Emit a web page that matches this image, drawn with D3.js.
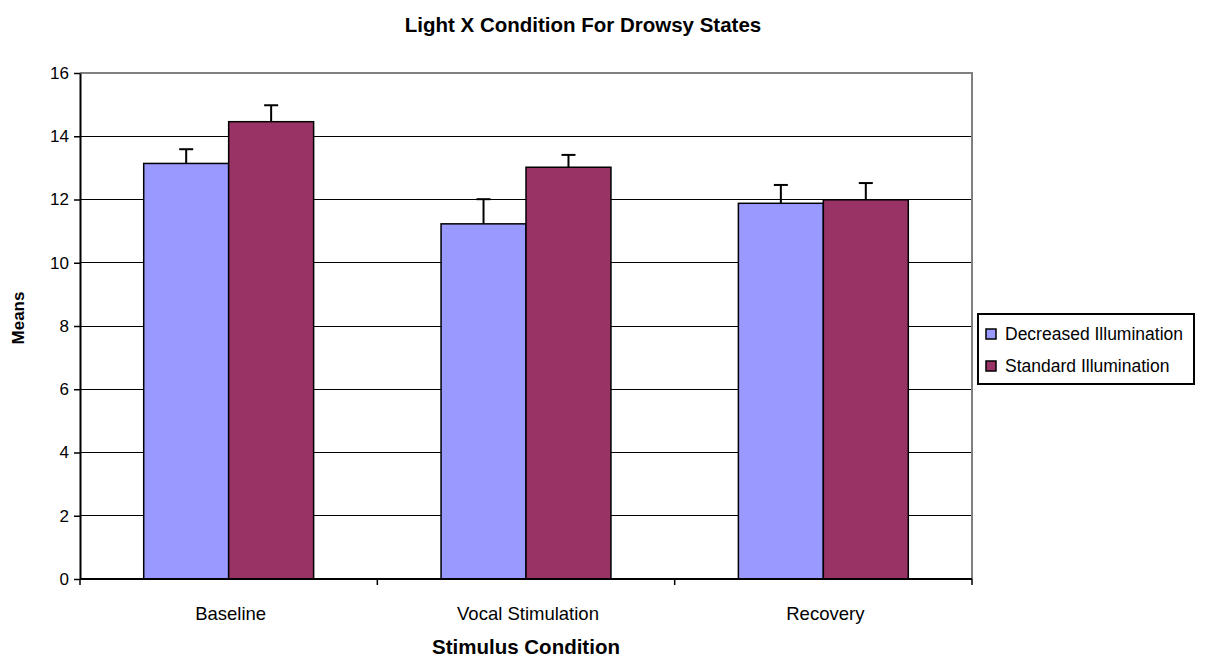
<!DOCTYPE html>
<html><head><meta charset="utf-8">
<script src="https://cdn.jsdelivr.net/npm/d3@7"></script>
<style>body{margin:0;background:#fff;} text{font-family:"Liberation Sans",Arial,sans-serif;}</style>
</head><body>
<svg id="c" width="1212" height="658"></svg>
<script>
const categories = ["Baseline", "Vocal Stimulation", "Recovery"];
const seriesNames = ["Decreased Illumination", "Standard Illumination"];
const decreased = [13.14, 11.23, 11.88];
const standard = [14.46, 13.02, 11.99];
const decreasedErr = [0.45, 0.78, 0.58];
const standardErr = [0.52, 0.39, 0.53];
const yTicks = [0, 2, 4, 6, 8, 10, 12, 14, 16];
const colors = ["#9999FF", "#993366"];

const svg = d3.select("#c");
const L = 80, R = 972, T = 73, B = 579;
const x = d3.scaleBand().domain(categories).range([L, R]).paddingInner(0).paddingOuter(0);
const x1 = d3.scaleBand().domain(seriesNames).range([0, x.bandwidth()]).paddingInner(0).paddingOuter(0.75);
const y = d3.scaleLinear().domain([0, 16]).range([B, T]);

// grid
svg.append("g").selectAll("line").data(yTicks.filter(d => d > 0 && d < 16)).join("line")
  .attr("x1", L).attr("x2", R).attr("y1", d => y(d)).attr("y2", d => y(d))
  .attr("stroke", "#000").attr("stroke-width", 1).attr("shape-rendering", "crispEdges");
// plot border top/right gray
svg.append("path").attr("d", `M${L},${T}H${R}V${B}`).attr("fill", "none")
  .attr("stroke", "#808080").attr("stroke-width", 2).attr("shape-rendering", "crispEdges");

const data = categories.map((c, i) => [
  {cat: c, s: seriesNames[0], v: decreased[i], e: decreasedErr[i], col: colors[0]},
  {cat: c, s: seriesNames[1], v: standard[i], e: standardErr[i], col: colors[1]}
]).flat();

svg.append("g").selectAll("rect").data(data).join("rect")
  .attr("x", d => x(d.cat) + x1(d.s)).attr("width", x1.bandwidth())
  .attr("y", d => y(d.v)).attr("height", d => y(0) - y(d.v))
  .attr("fill", d => d.col).attr("stroke", "#000").attr("stroke-width", 1.5);

const eg = svg.append("g");
data.forEach(d => {
  const cx = x(d.cat) + x1(d.s) + x1.bandwidth() / 2;
  eg.append("line").attr("x1", cx).attr("x2", cx).attr("y1", y(d.v)).attr("y2", y(d.v + d.e))
    .attr("stroke", "#000").attr("stroke-width", 2);
  eg.append("line").attr("x1", cx - 7).attr("x2", cx + 7).attr("y1", y(d.v + d.e)).attr("y2", y(d.v + d.e))
    .attr("stroke", "#000").attr("stroke-width", 2);
});

// y axis
const ya = svg.append("g").attr("transform", `translate(${L},0)`)
  .call(d3.axisLeft(y).tickValues(yTicks).tickSize(6).tickSizeOuter(0).tickPadding(5));
ya.select(".domain").attr("stroke", "#000").attr("stroke-width", 2);
ya.selectAll(".tick line").attr("stroke", "#000").attr("stroke-width", 1.5);
ya.selectAll("text").attr("font-size", 17).attr("fill", "#000").style("font-family", "Liberation Sans, Arial, sans-serif");

// x axis
const xa = svg.append("g").attr("transform", `translate(0,${B})`);
xa.append("line").attr("x1", L).attr("x2", R).attr("y1", 0).attr("y2", 0).attr("stroke", "#000").attr("stroke-width", 2);
const bounds = [L, ...categories.map(c => x(c) + x.bandwidth())];
xa.selectAll(".bt").data(bounds).join("line").attr("class", "bt")
  .attr("x1", d => d).attr("x2", d => d).attr("y1", 0).attr("y2", 6).attr("stroke", "#000").attr("stroke-width", 1.5);
xa.selectAll(".xl").data(categories).join("text").attr("class", "xl")
  .attr("x", d => x(d) + x.bandwidth() / 2 + 2).attr("y", 41).attr("text-anchor", "middle")
  .attr("font-size", 18.5).text(d => d);

// titles
svg.append("text").attr("x", 583).attr("y", 32).attr("text-anchor", "middle")
  .attr("font-size", 20.5).attr("font-weight", "bold").text("Light X Condition For Drowsy States");
svg.append("text").attr("x", 526).attr("y", 654).attr("text-anchor", "middle")
  .attr("font-size", 20.5).attr("font-weight", "bold").text("Stimulus Condition");
svg.append("text").attr("transform", "translate(24,318) rotate(-90)").attr("text-anchor", "middle")
  .attr("font-size", 17).attr("font-weight", "bold").text("Means");

// legend
const lg = svg.append("g");
lg.append("rect").attr("x", 978).attr("y", 314).attr("width", 216).attr("height", 70)
  .attr("fill", "#fff").attr("stroke", "#000").attr("stroke-width", 2);
seriesNames.forEach((s, i) => {
  const yy = 334 + i * 32;
  lg.append("rect").attr("x", 986).attr("y", yy - 5).attr("width", 10).attr("height", 10)
    .attr("fill", colors[i]).attr("stroke", "#000").attr("stroke-width", 1.5);
  lg.append("text").attr("x", 1005).attr("y", yy + 6).attr("font-size", 17.5).text(s);
});
</script>
</body></html>
